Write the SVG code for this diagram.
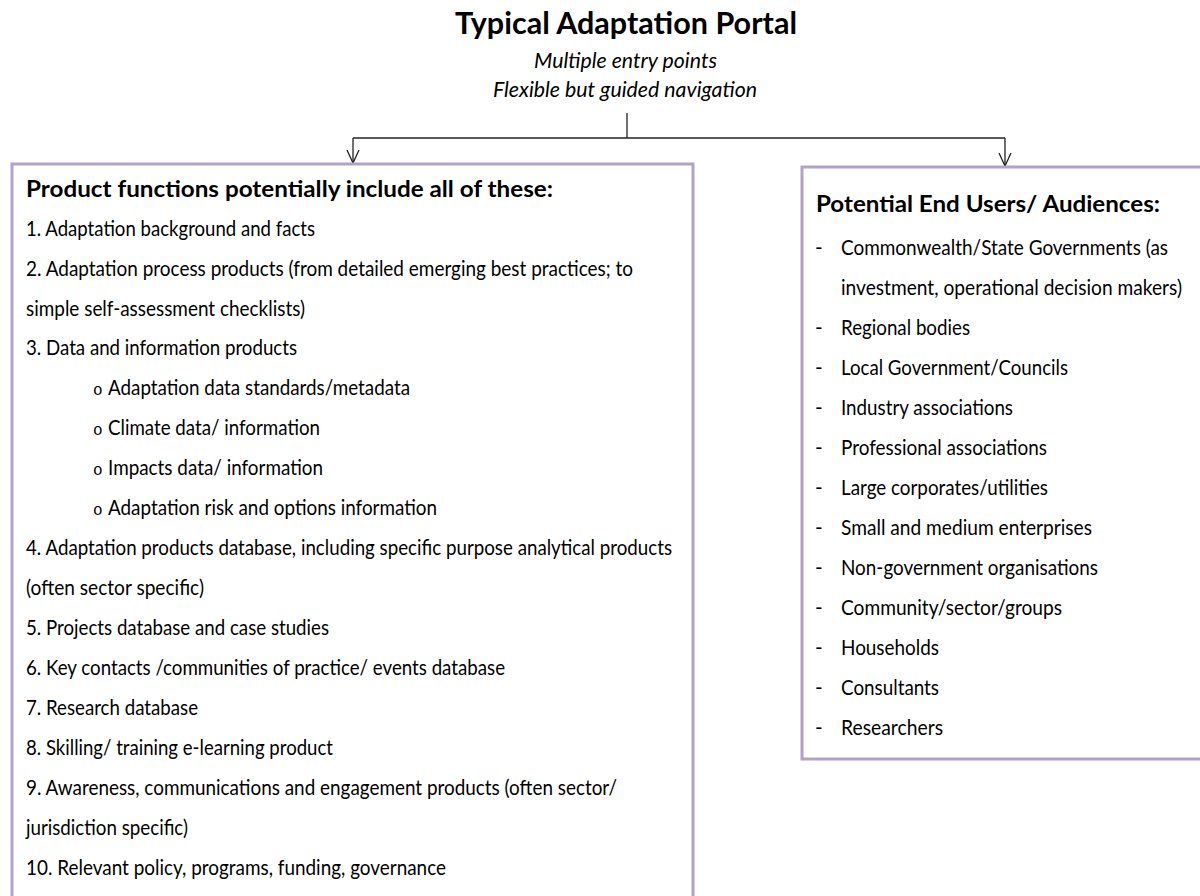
<svg xmlns="http://www.w3.org/2000/svg" width="1200" height="896" viewBox="0 0 1200 896">
<style>
  .bg { fill: #ffffff; }
  .box { fill: #ffffff; stroke: #b3a2c7; stroke-width: 3; }
  .conn { fill: none; stroke: #222222; stroke-width: 1.3; }
  .title { font-family: Lato, "Open Sans", sans-serif; font-weight: bold; font-size: 29.5px; fill: #000; }
  .sub { font-family: Lato, "Open Sans", sans-serif; font-style: italic; font-size: 20.5px; fill: #000; }
  .head { font-family: Lato, "Open Sans", sans-serif; font-weight: bold; font-size: 23.5px; fill: #000; }
  .body { font-family: Lato, "Open Sans", sans-serif; font-size: 20.5px; fill: #000; }
  .bul { font-family: "Liberation Mono", monospace; font-size: 16px; fill: #000; }
</style>
<defs>
  <marker id="openArrow" viewBox="0 0 14 14" refX="7" refY="13" markerWidth="14" markerHeight="14" markerUnits="userSpaceOnUse" orient="0">
    <path d="M1,0 L7,13 L13,0" fill="none" stroke="#222222" stroke-width="1.3"/>
  </marker>
</defs>
<rect class="bg" x="0" y="0" width="1200" height="896"/>

<g id="header">
  <text class="title" x="455" y="34" textLength="342" lengthAdjust="spacingAndGlyphs">Typical Adaptation Portal</text>
  <text class="sub" x="534" y="68" textLength="183" lengthAdjust="spacingAndGlyphs">Multiple entry points</text>
  <text class="sub" x="493" y="97" textLength="264" lengthAdjust="spacingAndGlyphs">Flexible but guided navigation</text>
</g>

<g id="connectors">
  <line class="conn" x1="627" y1="113" x2="627" y2="138"/>
  <line class="conn" x1="353" y1="138" x2="1005" y2="138"/>
  <line class="conn" x1="353" y1="138" x2="353" y2="163" marker-end="url(#openArrow)"/>
  <line class="conn" x1="1005" y1="138" x2="1005" y2="166" marker-end="url(#openArrow)"/>
</g>

<g id="product-functions">
  <rect class="box" x="12" y="164" width="681" height="760"/>
  <text class="head" x="26" y="197" textLength="527" lengthAdjust="spacingAndGlyphs">Product functions potentially include all of these:</text>
  <text class="body" x="26" y="236" textLength="289" lengthAdjust="spacingAndGlyphs">1. Adaptation background and facts</text>
  <text class="body" x="26" y="276" textLength="607" lengthAdjust="spacingAndGlyphs">2. Adaptation process products (from detailed emerging best practices; to</text>
  <text class="body" x="26" y="316" textLength="279" lengthAdjust="spacingAndGlyphs">simple self-assessment checklists)</text>
  <text class="body" x="26" y="355" textLength="271" lengthAdjust="spacingAndGlyphs">3. Data and information products</text>
  <text class="bul" x="93" y="395">o</text>
  <text class="body" x="108" y="395" textLength="302" lengthAdjust="spacingAndGlyphs">Adaptation data standards/metadata</text>
  <text class="bul" x="93" y="435">o</text>
  <text class="body" x="108" y="435" textLength="212" lengthAdjust="spacingAndGlyphs">Climate data/ information</text>
  <text class="bul" x="93" y="475">o</text>
  <text class="body" x="108" y="475" textLength="215" lengthAdjust="spacingAndGlyphs">Impacts data/ information</text>
  <text class="bul" x="93" y="515">o</text>
  <text class="body" x="108" y="515" textLength="329" lengthAdjust="spacingAndGlyphs">Adaptation risk and options information</text>
  <text class="body" x="26" y="555" textLength="646" lengthAdjust="spacingAndGlyphs">4. Adaptation products database, including specific purpose analytical products</text>
  <text class="body" x="26" y="595" textLength="178" lengthAdjust="spacingAndGlyphs">(often sector specific)</text>
  <text class="body" x="26" y="635" textLength="303" lengthAdjust="spacingAndGlyphs">5. Projects database and case studies</text>
  <text class="body" x="26" y="675" textLength="479" lengthAdjust="spacingAndGlyphs">6. Key contacts /communities of practice/ events database</text>
  <text class="body" x="26" y="715" textLength="172" lengthAdjust="spacingAndGlyphs">7. Research database</text>
  <text class="body" x="26" y="755" textLength="307" lengthAdjust="spacingAndGlyphs">8. Skilling/ training e-learning product</text>
  <text class="body" x="26" y="795" textLength="591" lengthAdjust="spacingAndGlyphs">9. Awareness, communications and engagement products (often sector/</text>
  <text class="body" x="26" y="835" textLength="162" lengthAdjust="spacingAndGlyphs">jurisdiction specific)</text>
  <text class="body" x="26" y="875" textLength="420" lengthAdjust="spacingAndGlyphs">10. Relevant policy, programs, funding, governance</text>
</g>

<g id="end-users">
  <rect class="box" x="802" y="167" width="420" height="592"/>
  <text class="head" x="816" y="212" textLength="344" lengthAdjust="spacingAndGlyphs">Potential End Users/ Audiences:</text>
  <g class="body">
    <text x="815" y="255">-</text>
    <text x="841" y="255" textLength="327" lengthAdjust="spacingAndGlyphs">Commonwealth/State Governments (as</text>
    <text x="841" y="295" textLength="341" lengthAdjust="spacingAndGlyphs">investment, operational decision makers)</text>
    <text x="815" y="335">-</text>
    <text x="841" y="335" textLength="129" lengthAdjust="spacingAndGlyphs">Regional bodies</text>
    <text x="815" y="375">-</text>
    <text x="841" y="375" textLength="227" lengthAdjust="spacingAndGlyphs">Local Government/Councils</text>
    <text x="815" y="415">-</text>
    <text x="841" y="415" textLength="172" lengthAdjust="spacingAndGlyphs">Industry associations</text>
    <text x="815" y="455">-</text>
    <text x="841" y="455" textLength="206" lengthAdjust="spacingAndGlyphs">Professional associations</text>
    <text x="815" y="495">-</text>
    <text x="841" y="495" textLength="207" lengthAdjust="spacingAndGlyphs">Large corporates/utilities</text>
    <text x="815" y="535">-</text>
    <text x="841" y="535" textLength="251" lengthAdjust="spacingAndGlyphs">Small and medium enterprises</text>
    <text x="815" y="575">-</text>
    <text x="841" y="575" textLength="257" lengthAdjust="spacingAndGlyphs">Non-government organisations</text>
    <text x="815" y="615">-</text>
    <text x="841" y="615" textLength="221" lengthAdjust="spacingAndGlyphs">Community/sector/groups</text>
    <text x="815" y="655">-</text>
    <text x="841" y="655" textLength="98" lengthAdjust="spacingAndGlyphs">Households</text>
    <text x="815" y="695">-</text>
    <text x="841" y="695" textLength="98" lengthAdjust="spacingAndGlyphs">Consultants</text>
    <text x="815" y="735">-</text>
    <text x="841" y="735" textLength="102" lengthAdjust="spacingAndGlyphs">Researchers</text>
  </g>
</g>
</svg>
